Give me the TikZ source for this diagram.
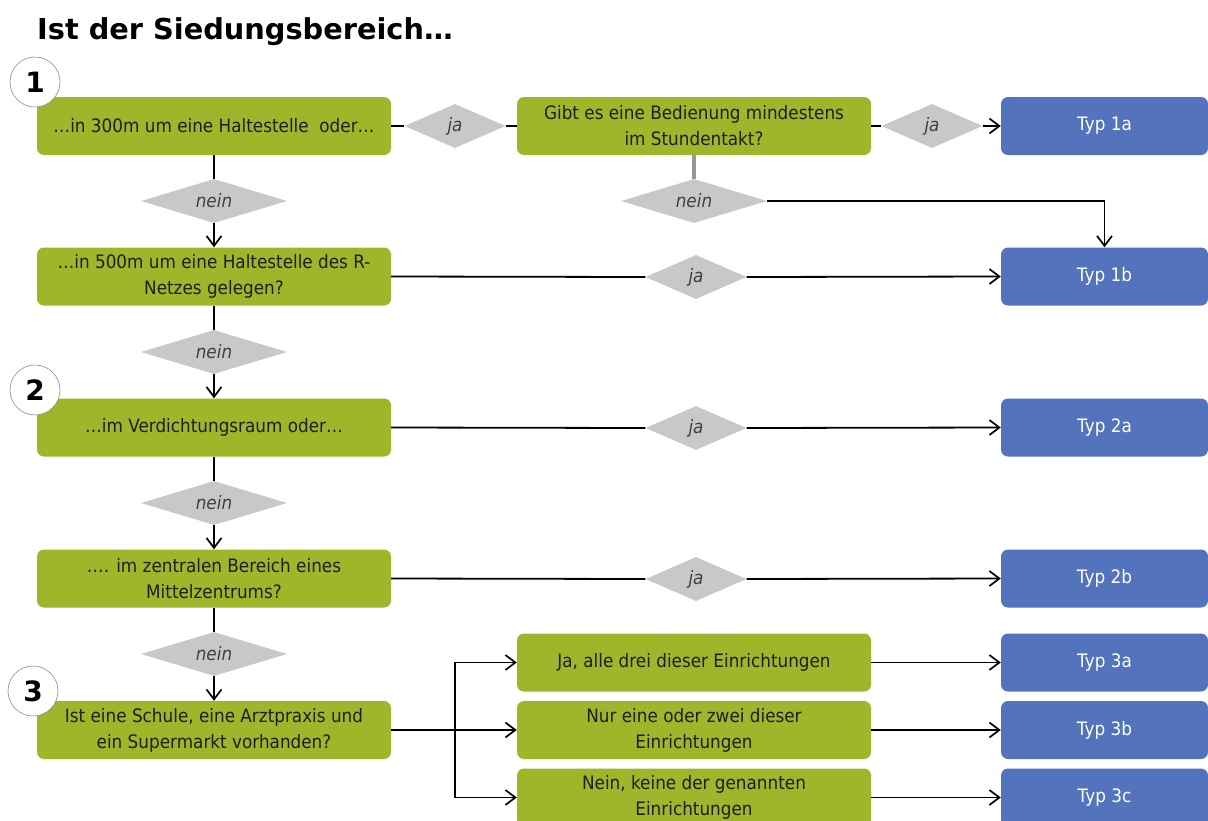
\documentclass[tikz,border=0pt]{standalone}
\usepackage{fontspec}
\setmainfont{DejaVu Sans}[FakeStretch=0.91]
\newfontfamily\titlefont{DejaVu Sans}
\usetikzlibrary{shapes.geometric,arrows.meta}
\definecolor{grn}{HTML}{9FB62A}
\definecolor{blu}{HTML}{5374BC}
\definecolor{diac}{HTML}{C8C8C8}
\definecolor{txt}{HTML}{1E1E1E}
\begin{document}
\begin{tikzpicture}[x=1pt,y=-1pt,
 gbox/.style={fill=grn, rounded corners=7pt, minimum width=354pt, minimum height=58pt, inner sep=0pt, align=center, font=\fontsize{18.5}{26}\selectfont, text=txt},
 bbox/.style={fill=blu, rounded corners=7pt, minimum width=207pt, minimum height=58pt, inner sep=0pt, text=white, font=\fontsize{18.5}{26}\selectfont},
 jadia/.style={diamond, fill=diac, inner sep=0pt, aspect=2.3, minimum width=101pt, minimum height=44pt, font=\fontsize{18.5}{22}\selectfont\itshape, text=txt!85},
 neindia/.style={jadia, aspect=3.3, minimum width=146pt},
 circ/.style={circle, draw=black!45, line width=0.6pt, fill=white, minimum size=50pt, inner sep=0pt, font=\titlefont\bfseries\fontsize{28}{28}\selectfont},
 ln/.style={draw=black, line width=1.8pt},
 arr/.style={ln, -{Straight Barb[length=10pt,width=15pt,line width=1.7pt]}},
 grayln/.style={draw=black!40, line width=3.5pt}]
\clip (0,0) rectangle (1208,820);
\fill[white] (0,0) rectangle (1208,820);
\node[anchor=base west, inner sep=0pt, font=\titlefont\bfseries\fontsize{28.8}{29}\selectfont] (title) at (37,39) {Ist der Siedungsbereich…};
% left column
\node[gbox] (b1) at (214,126) {…in 300m um eine Haltestelle\ \ oder…};
\node[gbox] (b2) at (214,276.5) {…in 500m um eine Haltestelle des R-\\Netzes gelegen?};
\node[gbox] (b3) at (214,427.5) {…im Verdichtungsraum oder…};
\node[gbox] (b4) at (214,578.5) {…. im zentralen Bereich eines\\Mittelzentrums?};
\node[gbox] (b5) at (214,730) {Ist eine Schule, eine Arztpraxis und\\ein Supermarkt vorhanden?};
% middle
\node[gbox] (g) at (694,126) {Gibt es eine Bedienung mindestens\\im Stundentakt?};
\node[gbox] (r1) at (694,662.5) {Ja, alle drei dieser Einrichtungen};
\node[gbox] (r2) at (694,730) {Nur eine oder zwei dieser\\Einrichtungen};
\node[gbox] (r3) at (694,797.5) {Nein, keine der genannten\\Einrichtungen};
% blue
\node[bbox] (t1a) at (1104.5,126) {Typ 1a};
\node[bbox] (t1b) at (1104.5,276.5) {Typ 1b};
\node[bbox] (t2a) at (1104.5,427.5) {Typ 2a};
\node[bbox] (t2b) at (1104.5,578.5) {Typ 2b};
\node[bbox] (t3a) at (1104.5,662.5) {Typ 3a};
\node[bbox] (t3b) at (1104.5,730) {Typ 3b};
\node[bbox] (t3c) at (1104.5,797.5) {Typ 3c};
% diamonds
\node[jadia] (ja1) at (455,126) {ja};
\node[jadia] (ja2) at (932,126) {ja};
\node[jadia] (ja3) at (696,277) {ja};
\node[jadia] (ja4) at (696,428) {ja};
\node[jadia] (ja5) at (696,579) {ja};
\node[neindia] (n1) at (214,201) {nein};
\node[neindia] (n2) at (694,201) {nein};
\node[neindia] (n3) at (214,352) {nein};
\node[neindia] (n4) at (214,503) {nein};
\node[neindia] (n5) at (214,654) {nein};
% circles
\node[circ] (c1) at (35,82) {1};
\node[circ] (c2) at (35,390) {2};
\node[circ] (c3) at (33,691) {3};
% connectors
\draw[ln] (b1.east) -- (ja1.west);
\draw[ln] (ja1.east) -- (g.west);
\draw[ln] (g.east) -- (ja2.west);
\draw[arr] (ja2.east) -- (t1a.west);
\draw[grayln] (g.south) -- (n2.north);
\draw[arr] (n2.east) -| (t1b.north);
\draw[ln] (b1.south) -- (n1.north);
\draw[arr] (n1.south) -- (b2.north);
\draw[ln] (b2.east) -- (ja3.west);
\draw[arr] (ja3.east) -- (t1b.west);
\draw[ln] (b2.south) -- (n3.north);
\draw[arr] (n3.south) -- (b3.north);
\draw[ln] (b3.east) -- (ja4.west);
\draw[arr] (ja4.east) -- (t2a.west);
\draw[ln] (b3.south) -- (n4.north);
\draw[arr] (n4.south) -- (b4.north);
\draw[ln] (b4.east) -- (ja5.west);
\draw[arr] (ja5.east) -- (t2b.west);
\draw[ln] (b4.south) -- (n5.north);
\draw[arr] (n5.south) -- (b5.north);
\coordinate (sp) at (455,730);
\draw[ln] (b5.east) -- (sp);
\draw[arr] (sp) |- (r1.west);
\draw[arr] (sp) -- (r2.west);
\draw[arr] (sp) |- (r3.west);
\draw[arr] (r1.east) -- (t3a.west);
\draw[arr] (r2.east) -- (t3b.west);
\draw[arr] (r3.east) -- (t3c.west);
\end{tikzpicture}
\end{document}
